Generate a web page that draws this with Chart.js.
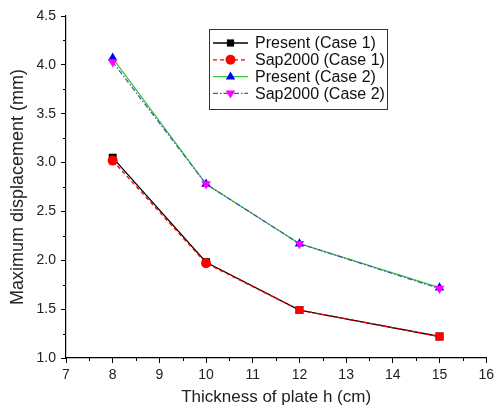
<!DOCTYPE html>
<html>
<head>
<meta charset="utf-8">
<script src="https://cdn.jsdelivr.net/npm/chart.js@4"></script>
<style>
  html, body { margin: 0; padding: 0; background: #fff; }
  #wrap { width: 498px; height: 414px; }
</style>
</head>
<body>
<div id="wrap"><canvas id="mychart" width="498" height="414"></canvas></div>
<script>
// plate thickness (cm) and max displacement (mm)
var thickness = [8, 10, 12, 15];
var presentCase1 = [3.05, 1.98, 1.49, 1.22];
var sapCase1 = [3.02, 1.97, 1.49, 1.22];
var presentCase2 = [4.07, 2.78, 2.17, 1.72];
var sapCase2 = [4.03, 2.78, 2.17, 1.71];

var xTicks = [7, 8, 9, 10, 11, 12, 13, 14, 15, 16];
var yTicks = [1.0, 1.5, 2.0, 2.5, 3.0, 3.5, 4.0, 4.5];

function pts(ys) {
  return thickness.map(function (x, i) { return { x: x, y: ys[i] }; });
}

var font = "'Liberation Sans', Arial, sans-serif";

// minor ticks halfway between the labelled ones
var minorTicks = {
  id: 'minorTicks',
  afterDraw: function (chart) {
    var ctx = chart.ctx;
    var xs = chart.scales.x, ys = chart.scales.y;
    ctx.save();
    ctx.strokeStyle = '#000';
    ctx.lineWidth = 1;
    ctx.beginPath();
    for (var v = 7.5; v < 16; v += 1) {
      var px = Math.round(xs.getPixelForValue(v)) + 0.5;
      ctx.moveTo(px, xs.top);
      ctx.lineTo(px, xs.top + 3);
    }
    for (var w = 1.25; w < 4.5; w += 0.5) {
      var py = Math.round(ys.getPixelForValue(w)) + 0.5;
      ctx.moveTo(ys.right, py);
      ctx.lineTo(ys.right - 3, py);
    }
    ctx.stroke();
    ctx.restore();
  }
};

function drawMarker(ctx, style, x, y, r, fill, rot) {
  ctx.save();
  ctx.fillStyle = fill;
  ctx.beginPath();
  if (style === 'rect') {
    ctx.rect(x - r * 0.72, y - r * 0.72, r * 1.44, r * 1.44);
  } else if (style === 'circle') {
    ctx.arc(x, y, r, 0, Math.PI * 2);
  } else {
    var s = rot ? -1 : 1;
    ctx.moveTo(x, y - s * r);
    ctx.lineTo(x + r * 0.95, y + s * r * 0.6);
    ctx.lineTo(x - r * 0.95, y + s * r * 0.6);
    ctx.closePath();
  }
  ctx.fill();
  ctx.restore();
}

// boxed legend sitting inside the plot
var boxLegend = {
  id: 'boxLegend',
  afterDraw: function (chart) {
    var ctx = chart.ctx;
    var left = 209, top = 29, w = 178, h = 80;
    ctx.save();
    ctx.fillStyle = '#fff';
    ctx.fillRect(left, top, w, h);
    ctx.strokeStyle = '#333';
    ctx.lineWidth = 1;
    ctx.strokeRect(left + 0.5, top + 0.5, w, h);
    ctx.font = '16px ' + font;
    ctx.textBaseline = 'middle';
    chart.data.datasets.forEach(function (ds, i) {
      var y = 43 + i * 16.8;
      ctx.save();
      ctx.strokeStyle = ds.borderColor;
      ctx.lineWidth = 1.3;
      ctx.setLineDash(ds.borderDash || []);
      ctx.beginPath();
      ctx.moveTo(213, y);
      ctx.lineTo(248, y);
      ctx.stroke();
      ctx.restore();
      var st = Array.isArray(ds.pointStyle) ? ds.pointStyle[0] : ds.pointStyle;
      drawMarker(ctx, st, 230.5, y, 5, ds.pointBackgroundColor, ds.pointRotation === 180);
      ctx.fillStyle = '#111';
      ctx.fillText(ds.label, 255, y + 1);
    });
    ctx.restore();
  }
};

var ctx = document.getElementById('mychart').getContext('2d');
var chart = new Chart(ctx, {
  type: 'line',
  data: {
    datasets: [
      {
        label: 'Present (Case 1)',
        data: pts(presentCase1),
        borderColor: '#000000',
        borderWidth: 1.3,
        pointStyle: 'rect',
        pointRadius: 5.6,
        pointBackgroundColor: '#000000',
        pointBorderWidth: 0,
        order: 3
      },
      {
        label: 'Sap2000 (Case 1)',
        data: pts(sapCase1),
        borderColor: '#ff0000',
        borderWidth: 1.3,
        borderDash: [4, 3],
        pointStyle: ['circle', 'circle', 'rect', 'rect'],
        pointRadius: [5, 5, 5.6, 5.6],
        pointBackgroundColor: '#ff0000',
        pointBorderWidth: 0,
        order: 1
      },
      {
        label: 'Present (Case 2)',
        data: pts(presentCase2),
        borderColor: '#33cc33',
        borderWidth: 1.3,
        pointStyle: 'triangle',
        pointRadius: 5.5,
        pointBackgroundColor: '#0000ff',
        pointBorderWidth: 0,
        order: 2
      },
      {
        label: 'Sap2000 (Case 2)',
        data: pts(sapCase2),
        borderColor: '#4d4db3',
        borderWidth: 1.2,
        borderDash: [5, 2, 1.5, 2],
        pointStyle: 'triangle',
        pointRotation: 180,
        pointRadius: 5.5,
        pointBackgroundColor: '#ff00ff',
        pointBorderWidth: 0,
        order: 0
      }
    ]
  },
  options: {
    responsive: false,
    animation: false,
    layout: { padding: { top: 16, right: 9, left: 0, bottom: 0 } },
    plugins: { legend: { display: false }, tooltip: { enabled: false } },
    scales: {
      x: {
        type: 'linear',
        min: 7, max: 16,
        afterFit: function (s) { s.height = 56; },
        afterBuildTicks: function (s) { s.ticks = xTicks.map(function (v) { return { value: v }; }); },
        grid: { drawOnChartArea: false, color: '#000', tickLength: 5, lineWidth: 1 },
        border: { color: '#000', width: 1.2 },
        ticks: { color: '#222', font: { family: font, size: 14 }, padding: 4, maxRotation: 0 },
        title: { display: true, text: 'Thickness of plate h (cm)', color: '#222', font: { family: font, size: 17 }, padding: { top: 0, bottom: 6 } }
      },
      y: {
        type: 'linear',
        min: 1.0, max: 4.5,
        afterFit: function (s) { s.width = 66; },
        afterBuildTicks: function (s) { s.ticks = yTicks.map(function (v) { return { value: v }; }); },
        grid: { drawOnChartArea: false, color: '#000', tickLength: 5, lineWidth: 1 },
        border: { color: '#000', width: 1.2 },
        ticks: {
          color: '#222', font: { family: font, size: 14 }, padding: 5,
          callback: function (v) { return v.toFixed(1); }
        },
        title: { display: true, text: 'Maximum displacement (mm)', color: '#222', font: { family: font, size: 18 }, padding: { top: 7, bottom: 0 } }
      }
    }
  },
  plugins: [minorTicks, boxLegend]
});
</script>
</body>
</html>
